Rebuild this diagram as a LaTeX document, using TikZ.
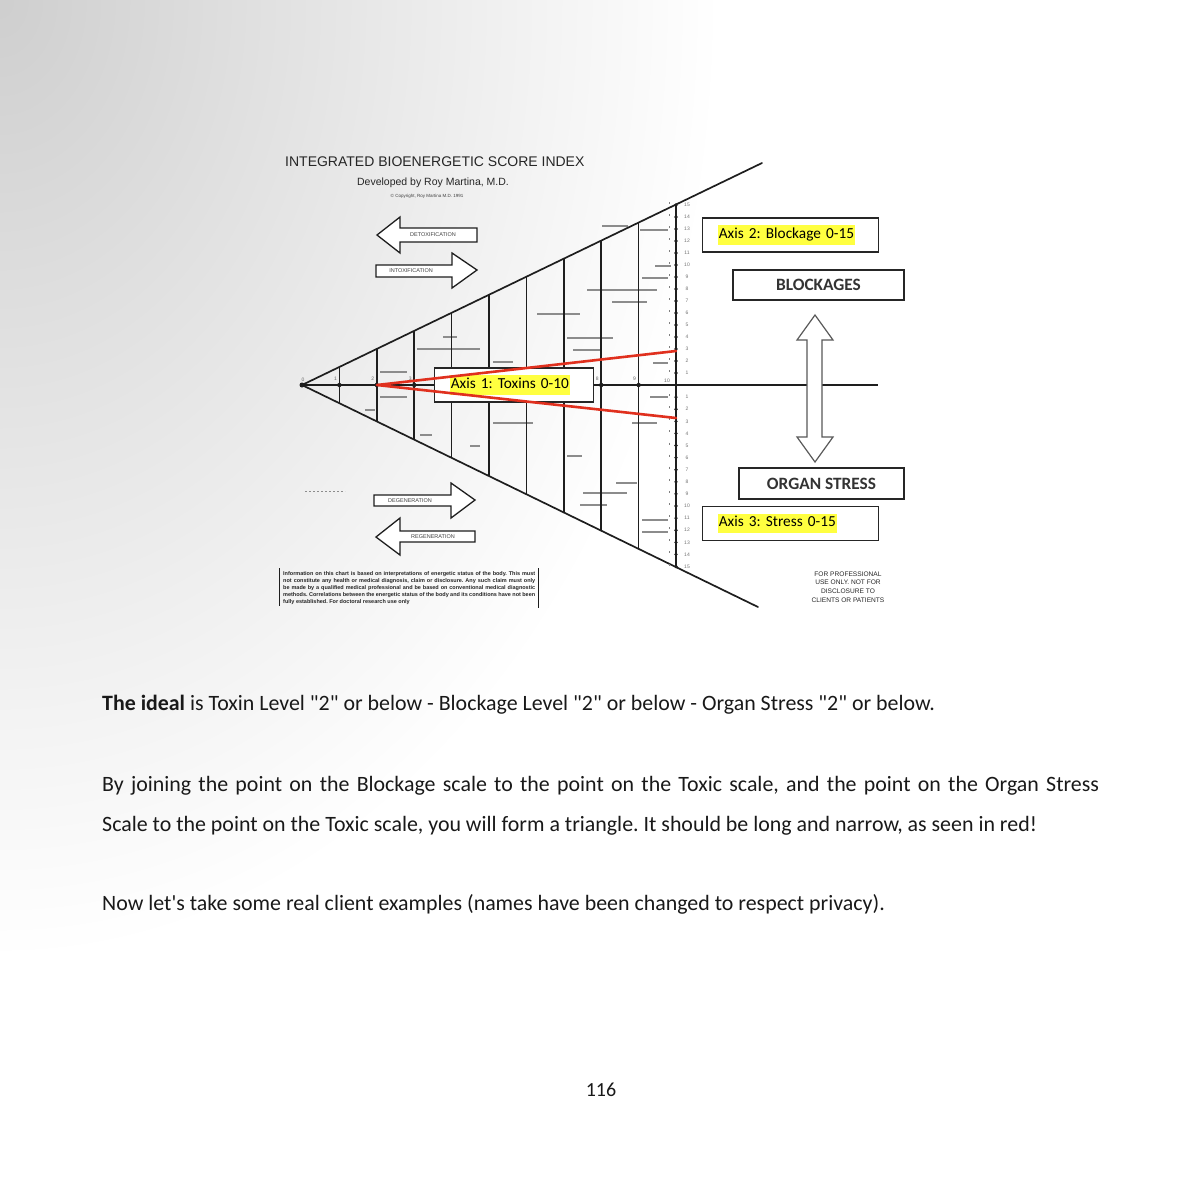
\documentclass[tikz,border=0pt]{standalone}
\usepackage{fontspec}
\setmainfont{Carlito}
\newfontfamily\bodyf{Carlito}
\newfontfamily\arialf{Liberation Sans}
\usetikzlibrary{calc}
\definecolor{hl}{HTML}{FFFF40}
\definecolor{redline}{HTML}{E0301E}
\definecolor{ink}{HTML}{1E1E1E}
\pgfdeclareradialshading{bgfade}{\pgfpoint{0bp}{0bp}}{color(0bp)=(black!19); color(9bp)=(black!12); color(25bp)=(white); color(50bp)=(white)}
\newcommand{\hlt}[1]{{\setlength{\fboxsep}{1.2pt}\colorbox{hl}{\strut #1}}}
\frenchspacing
\begin{document}
\begin{tikzpicture}[x=1pt,y=-1pt,
  chartline/.style={draw=ink, line width=1.7pt, line cap=round},
  gridv/.style={draw=ink, line width=1.5pt},
  graymark/.style={draw=black!45, line width=1.1pt},
  blockarrow/.style={draw=ink, line width=1.3pt, fill=white, line join=miter},
  infobox/.style={draw=black!85, line width=1.3pt, fill=white, inner ysep=0pt, minimum height=34pt, font=\bodyf\fontsize{15.3}{17}\selectfont},
  capbox/.style={draw=black!85, line width=1.3pt, fill=white, inner sep=0pt, text=black!80, font=\bodyf\bfseries\fontsize{17.3}{19}\selectfont},
  redl/.style={draw=redline, line width=2.6pt, line join=round, line cap=round},
  tinyf/.style={font=\arialf\fontsize{5.5}{6}\selectfont, text=black!75, inner sep=0pt},
  numf/.style={font=\arialf\fontsize{5}{6}\selectfont, text=black!55, inner sep=0pt},
  body/.style={font=\bodyf\fontsize{21.9}{26}\selectfont, anchor=base west, inner sep=0pt, text=black!90}
]
\useasboundingbox (0,0) rectangle (1200,1195);
% background fade
\begin{scope}
\clip (0,0) rectangle (1200,1195);
\fill[white] (0,0) rectangle (1200,1195);
\shade[shading=bgfade] (-720,-960) rectangle (720,960);
\end{scope}

% title block
\node[anchor=base west, inner sep=0pt, text=black!85, font=\arialf\fontsize{14}{16}\selectfont] (title) at (285,166) {INTEGRATED BIOENERGETIC SCORE INDEX};
\node[anchor=base, inner sep=0pt, text=black!85, font=\arialf\fontsize{10.5}{12}\selectfont] (dev) at (433,185) {Developed by Roy Martina, M.D.};
\node[anchor=base, inner sep=0pt, text=black!75, font=\arialf\fontsize{4.5}{5}\selectfont] (copy) at (427,197) {© Copyright, Roy Martina M.D. 1991};

% gray scattered marks
\foreach \a/\b/\c in {640/668/230, 602/628/226, 655/671/266, 642/668/278, 587/657/290, 612/647/302, 537/580/314,
  567/613/338, 573/600/350, 417/480/349, 443/457/337, 493/513/362, 653/668/363, 380/407/372,
  380/407/397, 650/668/397, 493/533/423, 632/657/423, 365/375/410, 420/432/435, 470/480/446,
  567/582/456, 616/637/483, 583/627/493, 580/607/505, 642/668/520, 642/668/532}
  \draw[graymark] (\a,\c) -- (\b,\c);
\draw[black!45, line width=0.8pt, dash pattern=on 2pt off 2pt] (305,491) -- (345,491);

% triangle grid
\coordinate (apex) at (302,385);
\coordinate (utip) at (762,163);
\coordinate (ltip) at (758,607);
\foreach \k in {1,...,9}{
  \pgfmathsetmacro\xx{302+37.4*\k}
  \pgfmathsetmacro\yt{385-0.4813*37.4*\k}
  \pgfmathsetmacro\yb{385+0.4866*37.4*\k}
  \draw[gridv] (\xx,\yt) -- (\xx,\yb);
  \fill[ink] (\xx,385) circle (2.2pt);
}
\foreach \k in {1,2,3,8,9}{
  \node[numf, text=black!60] at (302+37.4*\k-4,379) {\k};
}
\node[numf, text=black!60] (zero) at (303,380) {0};
\node[numf, text=black!60] (ten) at (667,381) {10};
\draw[chartline] (utip) -- (apex) -- (ltip);
\draw[ink, line width=1.6pt] (apex) -- (878,385);
\fill[ink] (apex) circle (2.5pt);

% vertical scale
\draw[ink, line width=2pt] (676,205) -- (676,567);
\foreach \i in {1,...,15}{
  \fill[ink] (676,385-12*\i) circle (1.8pt);
  \fill[ink] (676,385+12.1*\i) circle (1.8pt);
  \draw[black!50, line width=0.8pt] (669.5,385-12*\i-3) -- (669.5,385-12*\i-1);
  \draw[black!50, line width=0.8pt] (669.5,385+12.1*\i-3) -- (669.5,385+12.1*\i-1);
  \node[numf] at (687,385-12*\i) {\i};
  \node[numf] at (687,385+12.1*\i) {\i};
}

% block arrows
\draw[blockarrow] (377,235) -- (400,217) -- (400,228) -- (477,228) -- (477,242) -- (400,242) -- (400,253) -- cycle;
\node[tinyf] (detox) at (433,235) {DETOXIFICATION};
\draw[blockarrow] (376,265) -- (452,265) -- (452,253) -- (477,270) -- (452,288) -- (452,277) -- (376,277) -- cycle;
\node[tinyf] (intox) at (411,271) {INTOXIFICATION};
\draw[blockarrow] (374,495) -- (451,495) -- (451,483) -- (475,500) -- (451,518) -- (451,506) -- (374,506) -- cycle;
\node[tinyf] (degen) at (410,500.5) {DEGENERATION};
\draw[blockarrow] (376,537) -- (400,518) -- (400,531) -- (475,531) -- (475,542) -- (400,542) -- (400,555) -- cycle;
\node[tinyf] (regen) at (433,536.5) {REGENERATION};

% disclaimer
\draw[ink, line width=1pt] (279,568) -- (279,606);
\draw[ink, line width=1pt] (538,568) -- (538,608);
\node[anchor=north west, inner sep=0pt, text width=252pt, align=justify, text=black!85,
  font=\arialf\bfseries\fontsize{5.5}{7}\selectfont] (discl) at (283,571.5)
  {Information on this chart is based on interpretations of energetic status of the body. This must not constitute any health or medical diagnosis, claim or disclosure. Any such claim must only be made by a qualified medical professional and be based on conventional medical diagnostic methods. Correlations between the energetic status of the body and its conditions have not been fully established. For doctoral research use only};
\node[align=center, inner sep=0pt, text=black!85, font=\arialf\fontsize{6.6}{8.6}\selectfont] (prof) at (848,587)
  {FOR PROFESSIONAL\\USE ONLY. NOT FOR\\DISCLOSURE TO\\CLIENTS OR PATIENTS};

% double arrow
\draw[draw=black!65, line width=1.2pt, fill=white, line join=miter] (815,315) -- (833,340) -- (822,340) -- (822,437) -- (833,437) -- (815,462) -- (797,437) -- (807,437) -- (807,340) -- (797,340) -- cycle;

% boxes
\node[infobox, anchor=west, inner xsep=15pt, text width=129pt, align=left] (ax1) at (434,385) {\hlt{Axis 1: Toxins 0-10}};
\coordinate (t2) at (377,385);
\coordinate (b3) at (676,351);
\coordinate (s3) at (676,418);
\draw[redl] (b3) -- (t2) -- (s3);
\node[infobox, anchor=west, inner xsep=15pt, text width=146pt, align=left] (ax2) at (702,235) {\hlt{Axis 2: Blockage 0-15}};
\node[infobox, anchor=west, inner xsep=15pt, text width=146pt, align=left] (ax3) at (702,523.5) {\hlt{Axis 3: Stress 0-15}};
\node[capbox, minimum width=171pt, minimum height=30pt] (blk) at (818.5,285) {BLOCKAGES};
\node[capbox, minimum width=165pt, minimum height=31pt] (org) at (821.5,483.5) {ORGAN STRESS};

% body text
\node[body] (p1) at (102,710) {\textbf{The ideal} is Toxin Level "2" or below - Blockage Level "2" or below - Organ Stress "2" or below.};
\node[body] (p2) at (102,791) {\makebox[997pt][s]{By joining the point on the Blockage scale to the point on the Toxic scale, and the point on the Organ Stress}};
\node[body] (p3) at (102,831) {Scale to the point on the Toxic scale, you will form a triangle. It should be long and narrow, as seen in red!};
\node[body] (p4) at (102,910) {Now let's take some real client examples (names have been changed to respect privacy).};
\node[body, font=\bodyf\fontsize{20}{24}\selectfont, anchor=base] (pg) at (601,1096) {116};
\end{tikzpicture}
\end{document}
